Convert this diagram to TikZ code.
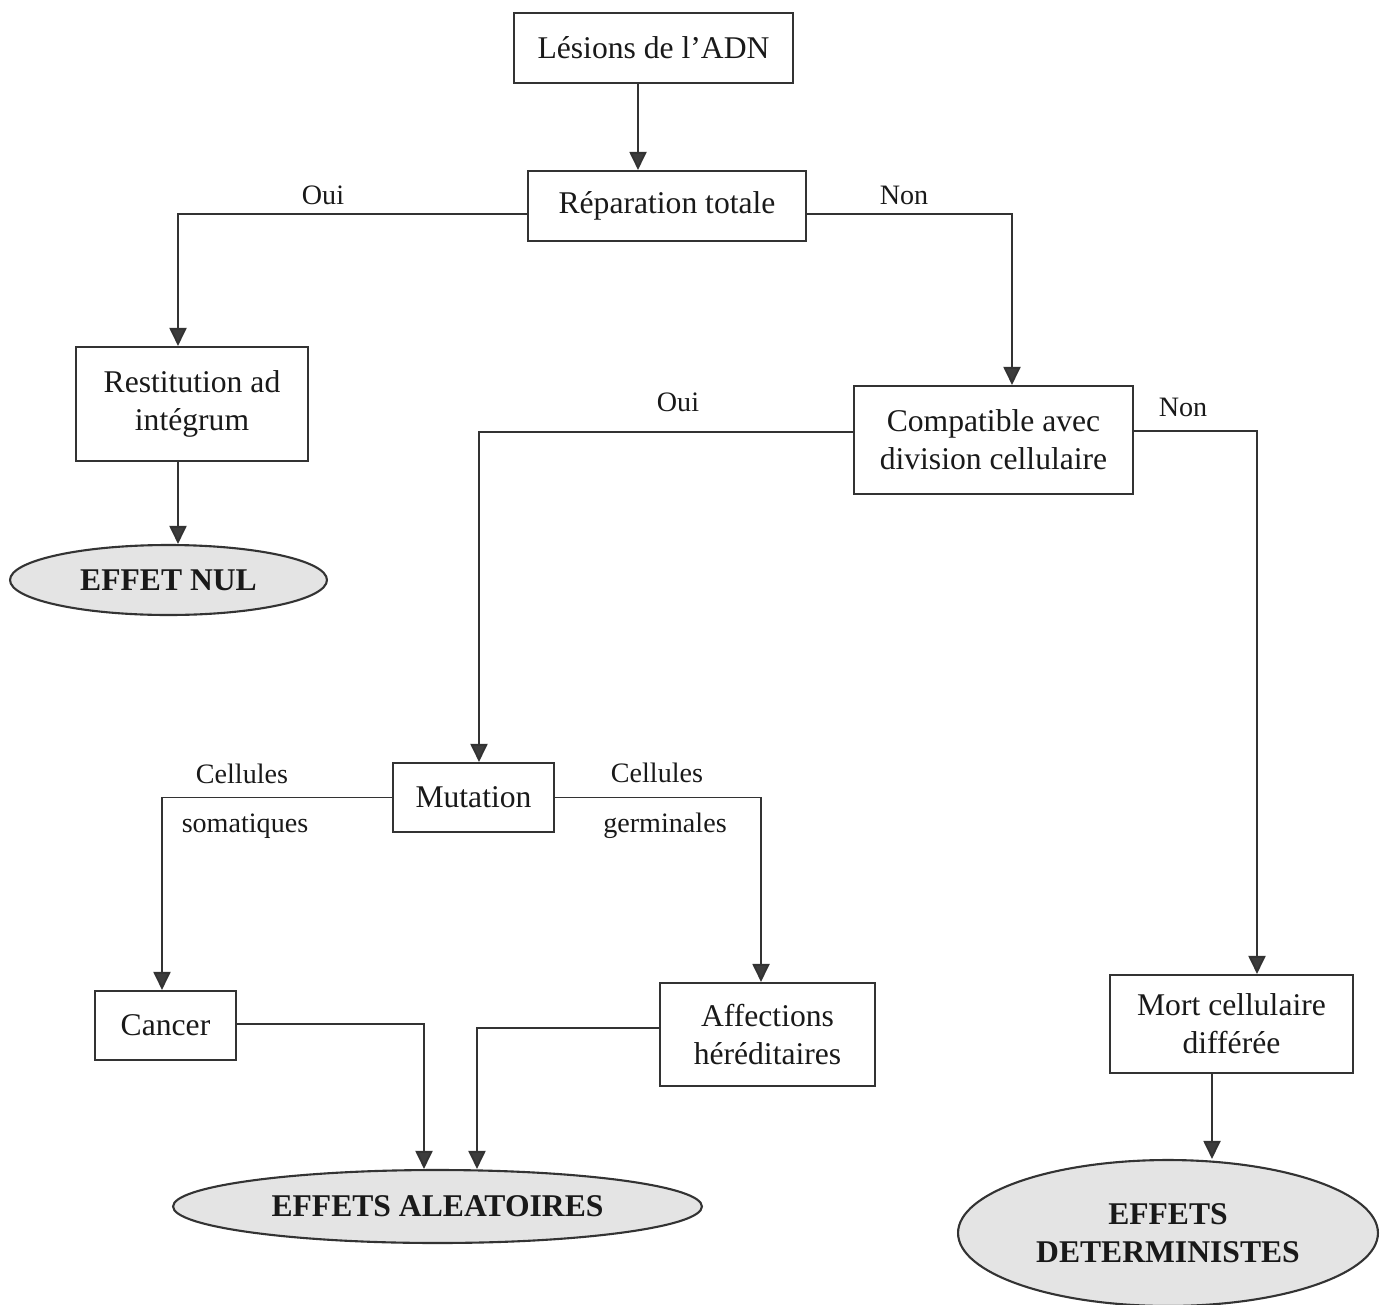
\documentclass[tikz,border=0pt]{standalone}
\usepackage{fontspec}
\setmainfont{Liberation Serif}
\usetikzlibrary{arrows.meta,shapes.geometric}
\definecolor{ink}{HTML}{333333}
\definecolor{tip}{HTML}{3C3C3C}
\definecolor{ovalfill}{HTML}{E4E4E4}
\tikzset{
  box/.style={draw=ink, line width=1.2pt, inner sep=0pt, align=center,
    font=\fontsize{18}{21.6}\selectfont, text=black!90},
  oval/.style={ellipse, draw=ink, fill=ovalfill, line width=1.2pt, inner sep=0pt,
    align=center, font=\fontsize{18}{21.6}\selectfont\bfseries, text=black!90},
  lbl/.style={font=\fontsize{16}{19}\selectfont, text=black!90, inner sep=0pt},
  arr/.style={draw=ink, line width=1.1pt,
    -{Triangle[length=0.36cm,width=0.34cm,fill=tip]}},
}
\begin{document}
\begin{tikzpicture}[x=0.02cm,y=-0.02cm]
\useasboundingbox (0,0) rectangle (1387,1305);
% boxes
\node[box, minimum width=5.58cm, minimum height=1.4cm] (les) at (653.5,48) {Lésions de l’ADN};
\node[box, minimum width=5.56cm, minimum height=1.4cm] (rep) at (667,206) {Réparation totale};
\node[box, minimum width=4.64cm, minimum height=2.28cm] (rest) at (192,404) {Restitution ad\\intégrum};
\node[oval, minimum width=6.34cm, minimum height=1.4cm] (nul) at (168.5,580) {EFFET NUL};
\node[box, minimum width=5.58cm, minimum height=2.16cm] (comp) at (993.5,440) {Compatible avec\\division cellulaire};
\node[box, minimum width=3.22cm, minimum height=1.38cm] (mut) at (473.5,797.5) {Mutation};
\node[box, minimum width=2.82cm, minimum height=1.38cm] (can) at (165.5,1025.5) {Cancer};
\node[box, minimum width=4.3cm, minimum height=2.06cm] (aff) at (767.5,1034.5) {Affections\\héréditaires};
\node[box, minimum width=4.86cm, minimum height=1.96cm] (mort) at (1231.5,1024) {Mort cellulaire\\différée};
\node[oval, minimum width=10.58cm, minimum height=1.46cm] (alea) at (437.5,1206.5) {EFFETS ALEATOIRES};
\node[oval, minimum width=8.4cm, minimum height=2.92cm] (det) at (1168,1233) {EFFETS\\DETERMINISTES};
% labels
\node[lbl] (l1) at (323,195) {Oui};
\node[lbl] (l2) at (904,195) {Non};
\node[lbl] (l3) at (678,402) {Oui};
\node[lbl] (l4) at (1183,407) {Non};
\node[lbl] (l5) at (242,774) {Cellules};
\node[lbl] (l6) at (245,826) {somatiques};
\node[lbl] (l7) at (657,773) {Cellules};
\node[lbl] (l8) at (665,826) {germinales};
% connectors
\draw[arr] ([xshift=-0.31cm]les.south) -- ([xshift=-0.31cm]les.south |- rep.north);
\draw[arr] ([yshift=-0.16cm]rep.west) -| ([xshift=-0.28cm]rest.north);
\draw[arr] ([yshift=-0.16cm]rep.east) -| ([xshift=0.37cm]comp.north);
\draw[arr] ([xshift=-0.28cm]rest.south) -- ([xshift=-0.28cm]rest.south |- nul.north);
\draw[arr] ([yshift=0.16cm]comp.west) -| ([xshift=0.11cm]mut.north);
\draw[arr] ([yshift=0.18cm]comp.east) -| ([xshift=0.51cm]mort.north);
\draw[arr] (mut.west) -| ([xshift=-0.07cm]can.north);
\draw[arr] (mut.east) -| ([xshift=-0.13cm]aff.north);
\draw[arr] ([yshift=0.03cm]can.east) -| ([xshift=-0.27cm]alea.north);
\draw[arr] ([yshift=0.13cm]aff.west) -| ([xshift=0.79cm]alea.north);
\draw[arr] ([xshift=-0.39cm]mort.south) -- ([xshift=-0.39cm]mort.south |- det.north);
\end{tikzpicture}
\end{document}
